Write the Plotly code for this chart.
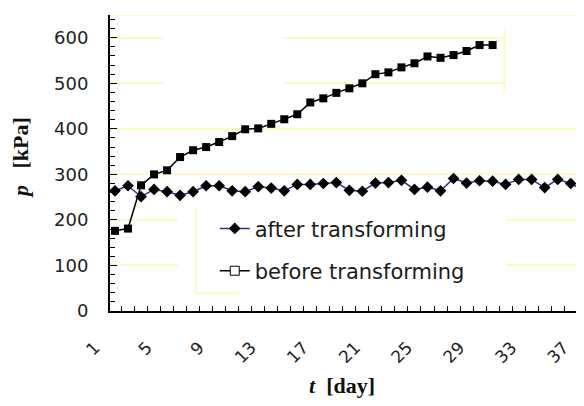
import plotly.graph_objects as go

# ---- data ----
days_after = list(range(1, 38))
p_after = [264, 275, 251, 267, 262, 254, 262, 275, 275, 264, 262, 273, 270,
           264, 278, 278, 280, 282, 265, 263, 281, 282, 287, 267, 272, 264,
           291, 281, 286, 285, 278, 289, 289, 271, 289, 280, 264]
days_before = list(range(1, 31))
p_before = [176, 181, 276, 300, 309, 338, 353, 360, 371, 384, 399, 401, 411,
            421, 432, 458, 467, 479, 489, 500, 520, 524, 535, 544, 559, 556,
            562, 571, 584, 584]
x_tick_vals = [1, 5, 9, 13, 17, 21, 25, 29, 33, 37]
x_tick_text = ["1", "5", "9", "13", "17", "21", "25", "29", "33", "37"]
y_tick_vals = [0, 100, 200, 300, 400, 500, 600]

GRID = "rgb(255,250,195)"
BLUE = "#2d2d9c"
TITLE_FONT = dict(family="Liberation Serif", size=22, color="#111")

fig = go.Figure()
fig.add_trace(go.Scatter(
    x=days_after, y=p_after, mode="lines+markers", name="after transforming",
    line=dict(color=BLUE, width=1.5),
    marker=dict(symbol="diamond", size=9, color="black"),
    cliponaxis=False, legendgroup="a"))
fig.add_trace(go.Scatter(
    x=days_before, y=p_before, mode="lines+markers", name="before transforming",
    line=dict(color="black", width=1.5),
    marker=dict(symbol="square", size=8, color="black"),
    cliponaxis=False, showlegend=False))
# legend entry for the "before" series (hollow square as in the reference)
fig.add_trace(go.Scatter(
    x=[None], y=[None], mode="lines+markers", name="before transforming",
    line=dict(color="black", width=1.5),
    marker=dict(symbol="square", size=9, color="white",
                line=dict(color="black", width=1)),
    legendgroup="b"))

shapes = [
    dict(type="line", xref="paper", yref="y", x0=0, x1=1, y0=650, y1=650,
         line=dict(color=GRID, width=2), layer="between"),
    dict(type="rect", xref="x", yref="y", x0=4.68, x1=14.03, y0=470, y1=625,
         fillcolor="white", line=dict(width=0), layer="between"),
    dict(type="rect", xref="x", yref="y", x0=30.89, x1=37.5, y0=479, y1=619,
         fillcolor="white", line=dict(width=0), layer="between"),
    dict(type="line", xref="x", yref="y", x0=30.89, x1=30.89, y0=479, y1=619,
         line=dict(color=GRID, width=2), layer="between"),
    dict(type="rect", xref="x", yref="y", x0=5.83, x1=31.04, y0=35, y1=230,
         fillcolor="white", line=dict(width=0), layer="between"),
    dict(type="line", xref="x", yref="y", x0=7.21, x1=7.21, y0=39, y1=228,
         line=dict(color=GRID, width=2), layer="between"),
    dict(type="line", xref="x", yref="y", x0=7.21, x1=10.58, y0=39, y1=39,
         line=dict(color=GRID, width=2), layer="between"),
]

annotations = [
    dict(text="<b><i>t</i>\u00a0\u00a0[day]</b>", xref="paper", yref="paper",
         x=0.49, y=-0.25, xanchor="center", yanchor="middle", showarrow=False,
         font=TITLE_FONT),
    dict(text="<b><i>p</i>\u00a0\u00a0\u00a0[kPa]</b>", xref="paper", yref="paper",
         x=-0.19, y=0.52, xanchor="center", yanchor="middle", showarrow=False,
         textangle=-90, font=TITLE_FONT),
]

# the page body adds an 8px margin, so the figure is sized to fit the window
fig.update_layout(
    width=576, height=398, autosize=False,
    margin=dict(l=102, r=0, t=7, b=95),
    paper_bgcolor="white", plot_bgcolor="white",
    shapes=shapes, annotations=annotations,
    showlegend=True,
    legend=dict(x=0.221, xanchor="left", y=0.347, yanchor="top",
                bgcolor="rgba(0,0,0,0)", borderwidth=0,
                font=dict(family="DejaVu Sans", size=21, color="#1c1c1c"),
                traceorder="grouped", tracegroupgap=12),
    xaxis=dict(
        range=[0.617, 37.02], tickmode="array", tickvals=x_tick_vals,
        ticktext=x_tick_text, tickangle=-45, ticks="inside", ticklen=0,
        ticklabelshift=-20, ticklabelstandoff=18, automargin=False,
        tickfont=dict(family="DejaVu Sans", size=17, color="#222"),
        showgrid=False, zeroline=False, showline=True, linecolor="black",
        linewidth=2,
        minor=dict(tickmode="linear", tick0=0.5, dtick=1, ticks="inside",
                   ticklen=5, tickcolor="black", showgrid=False),
    ),
    yaxis=dict(
        range=[0, 650], tickmode="array", tickvals=y_tick_vals,
        ticks="inside", ticklen=7, tickcolor="black", ticklabelstandoff=16,
        automargin=False,
        tickfont=dict(family="DejaVu Sans", size=18, color="#222"),
        showgrid=True, gridcolor=GRID, gridwidth=2, zeroline=False,
        showline=True, linecolor="black", linewidth=2,
        minor=dict(tickmode="linear", tick0=0, dtick=20, ticks="inside",
                   ticklen=5, tickcolor="black", showgrid=False),
    ),
)

fig.write_html("out.html")
